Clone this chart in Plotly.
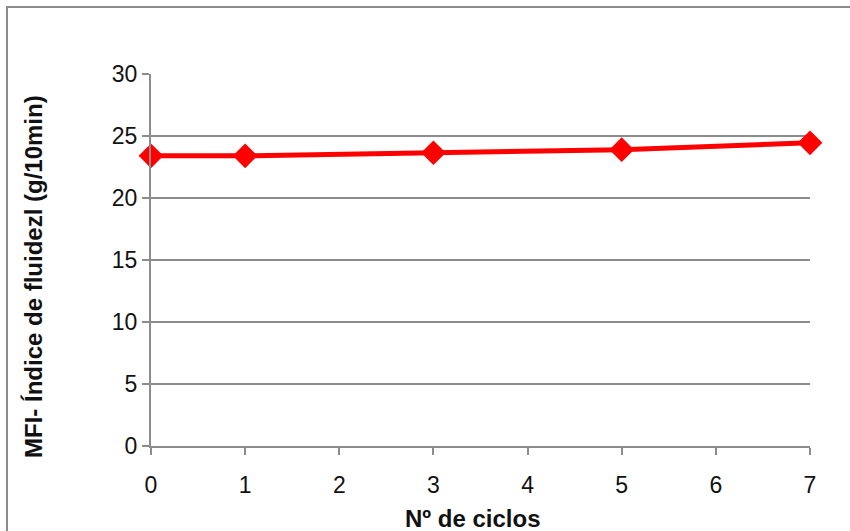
import plotly.graph_objects as go

# data
ciclos = [0, 1, 3, 5, 7]
mfi = [23.4, 23.4, 23.65, 23.9, 24.45]

y_ticks = [0, 5, 10, 15, 20, 25, 30]
x_ticks = [0, 1, 2, 3, 4, 5, 6, 7]

fig = go.Figure()
fig.add_trace(go.Scatter(
    x=ciclos, y=mfi,
    mode='lines+markers',
    line=dict(color='#ff0000', width=5),
    marker=dict(symbol='diamond', size=19, color='#ff0000'),
    cliponaxis=False,
    showlegend=False
))

# pixel layout of the plot area
L, R, T, B = 151, 40, 74, 85
W, H = 850, 531
pw, ph = W - L - R, H - T - B

def px(xp):
    return (xp - L) / pw

def py(yp):
    return (H - B - yp) / ph

gray = '#8c8c8c'

fig.update_layout(
    width=W, height=H,
    margin=dict(l=L, r=R, t=T, b=B),
    paper_bgcolor='white', plot_bgcolor='white',
    font=dict(family='Liberation Sans, Arial, sans-serif', size=23, color='#111111'),
    xaxis=dict(
        range=[0, 7], tickvals=x_ticks, showgrid=False,
        showline=True, linecolor=gray, linewidth=2,
        ticks='outside', ticklen=7, tickcolor=gray, tickwidth=2,
        ticklabelstandoff=10, zeroline=False
    ),
    yaxis=dict(
        range=[0, 30], tickvals=y_ticks, showgrid=True,
        gridcolor=gray, gridwidth=2,
        showline=True, linecolor=gray, linewidth=2,
        ticks='outside', ticklen=7, tickcolor=gray, tickwidth=2,
        zeroline=False
    ),
    annotations=[
        dict(text='<b>Nº de ciclos</b>', xref='paper', yref='paper',
             x=px(472), y=py(518), showarrow=False,
             xanchor='center', yanchor='middle', font=dict(size=24)),
        dict(text='<b>MFI- Índice de fluidezl (g/10min)</b>', xref='paper', yref='paper',
             x=px(33), y=py(277), showarrow=False, textangle=-90,
             xanchor='center', yanchor='middle', font=dict(size=24)),
    ],
    shapes=[dict(
        type='rect', xref='paper', yref='paper',
        x0=px(7), x1=px(880), y0=py(560), y1=py(7),
        line=dict(color=gray, width=2), fillcolor='rgba(0,0,0,0)',
        layer='below'
    )]
)

fig.write_html("out.html", config={'displayModeBar': False},
               post_script="document.body.style.margin='0';")
